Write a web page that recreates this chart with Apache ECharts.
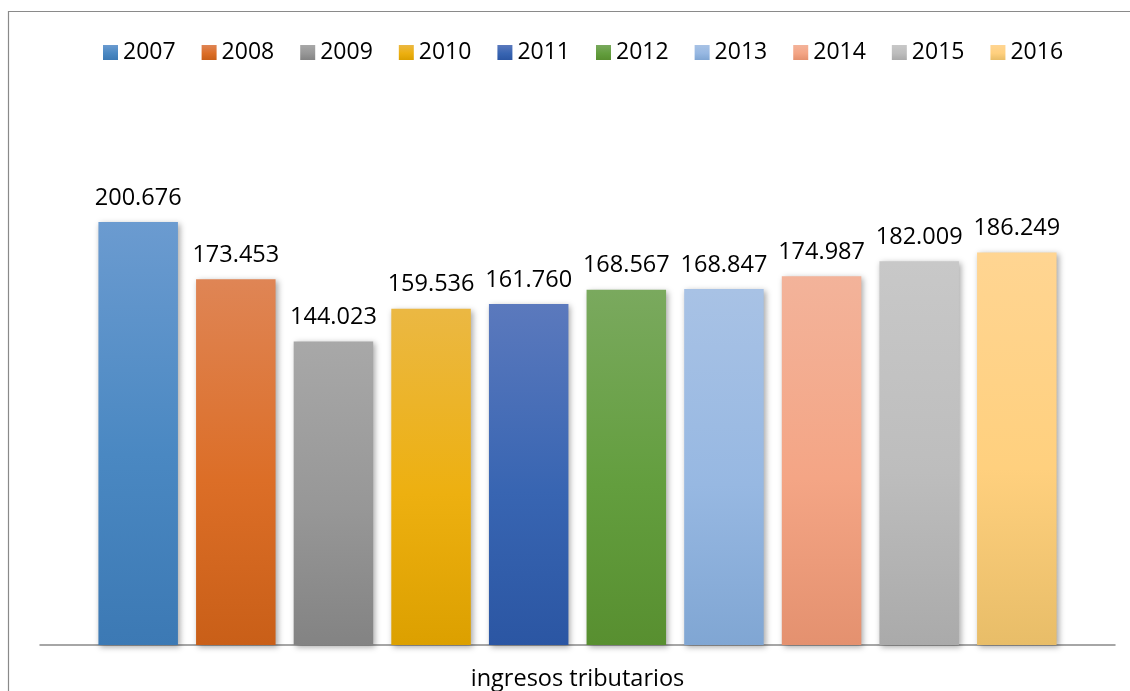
<!DOCTYPE html>
<html>
<head>
<meta charset="utf-8">
<script src="https://cdn.jsdelivr.net/npm/echarts@6/dist/echarts.min.js"></script>
<style>
html,body{margin:0;padding:0;background:#fff;}
#c{width:1130px;height:691px;}
</style>
</head>
<body>
<div id="c"></div>
<script>
const categories = ['ingresos tributarios'];
const years = ['2007','2008','2009','2010','2011','2012','2013','2014','2015','2016'];
const values = [200.676, 173.453, 144.023, 159.536, 161.760, 168.567, 168.847, 174.987, 182.009, 186.249];
const topColors = ['#6b9bd0','#df8555','#a8a8a8','#ebb843','#5b79bd','#7aa95e','#a8c2e5','#f3b39a','#c8c8c8','#ffd592'];
const midColors = ['#4a88c2','#dc6e27','#979797','#edb010','#3865b2','#639e3e','#97b8e2','#f4a585','#bdbdbd','#ffd07e'];
const botColors = ['#3c79b4','#c95f18','#838383','#dca000','#2b56a3','#588f30','#80a6d3','#e4916f','#aaaaaa','#e8bd68'];

const FONT = "'Open Sans', 'Liberation Sans', sans-serif";

const series = years.map((y, i) => ({
  name: y,
  type: 'bar',
  barWidth: 79.5,
  barGap: '22.8%',
  data: [values[i]],
  itemStyle: {
    color: new echarts.graphic.LinearGradient(0, 0, 0, 1, [
      {offset: 0, color: topColors[i]},
      {offset: 0.55, color: midColors[i]},
      {offset: 1, color: botColors[i]}
    ]),
    shadowColor: 'rgba(0,0,0,0.35)',
    shadowBlur: 6,
    shadowOffsetX: 2,
    shadowOffsetY: 2
  },
  label: {
    show: true,
    position: 'top',
    distance: 12,
    fontFamily: FONT,
    fontSize: 23.5,
    color: '#000',
    formatter: p => p.value.toFixed(3)
  }
}));

const chart = echarts.init(document.getElementById('c'));
chart.setOption({
  animation: false,
  backgroundColor: '#fff',
  legend: {
    top: 36,
    left: 98,
    itemWidth: 15,
    itemHeight: 15,
    itemGap: 26,
    icon: 'rect',
    textStyle: {fontFamily: FONT, fontSize: 23, color: '#000'},
    data: years
  },
  grid: {left: 40, right: 15, top: 118, bottom: 46, containLabel: false, outerBoundsMode: 'none'},
  xAxis: {
    type: 'category',
    data: categories,
    axisTick: {show: false},
    axisLine: {lineStyle: {color: '#898989', width: 1.5}},
    axisLabel: {fontFamily: FONT, fontSize: 23.5, color: '#000', margin: 22}
  },
  yAxis: {
    type: 'value',
    min: 0,
    max: 250,
    show: false,
    splitLine: {show: false}
  },
  graphic: [{
    type: 'rect',
    shape: {x: 8.5, y: 11.5, width: 1200, height: 800},
    style: {fill: 'none', stroke: '#8a8a8a', lineWidth: 1.2},
    silent: true,
    z: -1
  }],
  series: series
});
</script>
</body>
</html>
